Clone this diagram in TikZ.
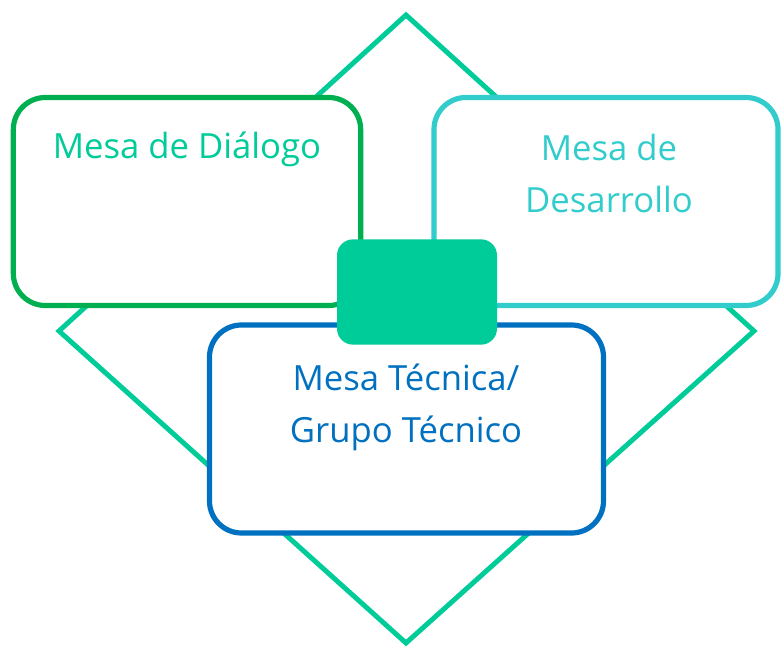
\documentclass[tikz,border=0pt]{standalone}
\usepackage{fontspec}
\setmainfont{Open Sans}
\usepackage{xcolor}
\usetikzlibrary{positioning,shapes}
\definecolor{verdeclaro}{HTML}{00CC99}
\definecolor{verde}{HTML}{00B050}
\definecolor{turquesa}{HTML}{33CCCC}
\definecolor{azul}{HTML}{0070C0}
\tikzset{
mesa/.style={
  draw, rectangle, rounded corners=24pt, line width=3.9pt,
  fill=white, inner sep=0pt
},
titulo/.style={
  font=\fontsize{26}{39}\selectfont, align=center, inner sep=0pt
},
rombo/.style={draw=verdeclaro, line width=3.7pt, line join=miter},
}

\begin{document}
\begin{tikzpicture}[x=0.75pt,y=-0.75pt]
    \useasboundingbox (0,0) rectangle (781,648);
    \draw[rombo] (406,15) -- (754,331) -- (406,643) -- (59,331) -- cycle;
    \node (dialogo) [mesa, draw=verde, minimum width=260.5pt, minimum height=156pt] at (187,201.5) {};
    \node (desarrollo) [mesa, draw=turquesa, minimum width=258pt, minimum height=156pt] at (606,201.5) {};
    \node (tecnica) [mesa, draw=azul, minimum width=295.5pt, minimum height=156pt] at (406.5,429) {};
    \node (centro) [rectangle, rounded corners=12pt, fill=verdeclaro, minimum width=120pt, minimum height=79pt] at (417,292) {};
    \node (t1) [titulo, text=verdeclaro, anchor=base] at (187,159) {Mesa de Diálogo};
    \node (t2) [titulo, text=turquesa, anchor=base] at (609,213) {Mesa de\\Desarrollo};
    \node (t3) [titulo, text=azul, anchor=base] at (406,442) {Mesa Técnica/\\Grupo Técnico};
\end{tikzpicture}
\end{document}
